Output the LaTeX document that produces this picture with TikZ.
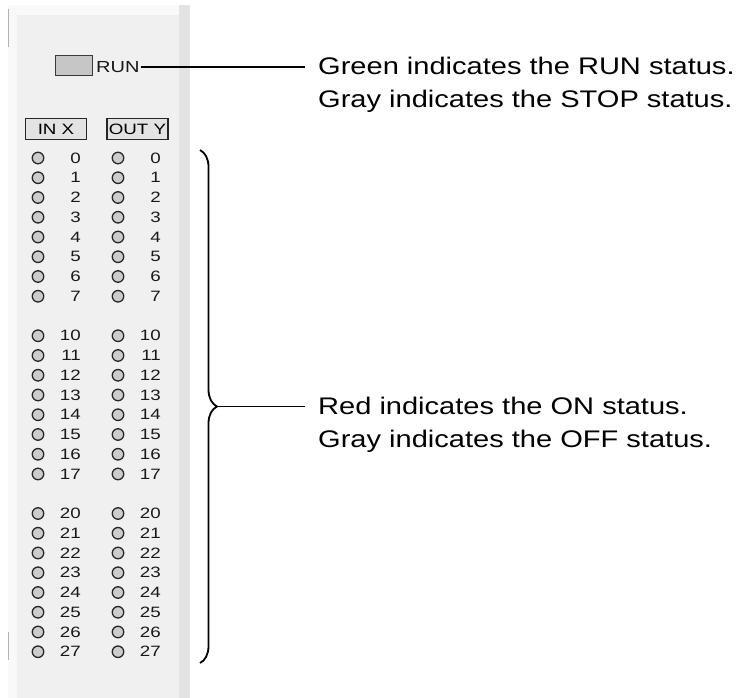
\documentclass[tikz,border=0pt]{standalone}
\usepackage{fontspec}
\setmainfont{Liberation Sans}
\newfontfamily\panelfont[FakeStretch=1.25]{Liberation Sans}
\newfontfamily\notefont[FakeStretch=1.21]{Liberation Sans}
\usepackage{tikz}
\usetikzlibrary{decorations.pathreplacing}

\tikzset{
  led/.style={circle,draw=gray!30!black,fill=gray!40,line width=1.3bp,minimum size=11.5bp,inner sep=0pt},
  ledno/.style={anchor=east,inner sep=0pt,text=black!90,font=\panelfont\fontsize{15bp}{15bp}\selectfont},
  headbox/.style={draw=gray!30!black,fill=gray!22,line width=1.1bp,minimum width=61bp,minimum height=21bp,inner sep=0pt,font=\panelfont\fontsize{15bp}{15bp}\selectfont},
  note/.style={anchor=base west,inner sep=0pt,font=\notefont\fontsize{24bp}{24bp}\selectfont},
  callout/.style={line width=1.8bp}
}

\begin{document}
\begin{tikzpicture}[x=1bp,y=-1bp]
\useasboundingbox (0,0) rectangle (738,698);

% panel
\fill[gray!5] (8,5) rectangle (190,698);
\fill[gray!12] (17,15) rectangle (179,698);
\fill[gray!22] (179,5) rectangle (190,698);
\draw[gray!60,line width=1bp] (8,9) -- (8,47);
\draw[gray!60,line width=1bp] (8,632) -- (8,660);

% RUN lamp
\node[draw=gray!45!black,fill=gray!45,line width=1bp,minimum width=37bp,minimum height=20bp,inner sep=0pt] (runlamp) at (73.5,65.5) {};
\node[anchor=west,inner sep=1pt,text=black!90,font=\panelfont\fontsize{16bp}{16bp}\selectfont] (run) at (95,67) {RUN};

% column heads
\node[headbox] (inx) at (56,129) {IN X};
\node[headbox] (outy) at (137.5,129) {OUT Y};

% LEDs and numbers
\foreach \g in {0,1,2} {
  \foreach \i in {0,...,7} {
    \pgfmathsetmacro{\yy}{158+19.75*(\i+9*\g)}
    \ifnum\g=0 \def\lbl{\i}\else \def\lbl{\g\i}\fi
    \node[led] (inled\g\i) at (38,\yy) {};
    \node[ledno] (inno\g\i) at (81,\yy) {\lbl};
    \node[led] (outled\g\i) at (118,\yy) {};
    \node[ledno] (outno\g\i) at (161,\yy) {\lbl};
  }
}

% RUN callout
\coordinate (runend) at (305,67);
\draw[callout] (run.east) -- (runend);
\node[note] (greentxt) at (318,75) {Green indicates the RUN status.};
\node[note] (stoptxt) at (318,108) {Gray indicates the STOP status.};

% I/O callout
\coordinate (bracetop) at (200,150);
\coordinate (bracebot) at (200,663);
\coordinate (bracetip) at (217,406.5);
\coordinate (ioend) at (305,406.5);
\draw[callout,decorate,decoration={brace,amplitude=17bp}] (bracetop) -- (bracebot);
\draw[callout] (bracetip) -- (ioend);
\node[note] (redtxt) at (318,414) {Red indicates the ON status.};
\node[note] (offtxt) at (318,447) {Gray indicates the OFF status.};

\end{tikzpicture}
\end{document}
